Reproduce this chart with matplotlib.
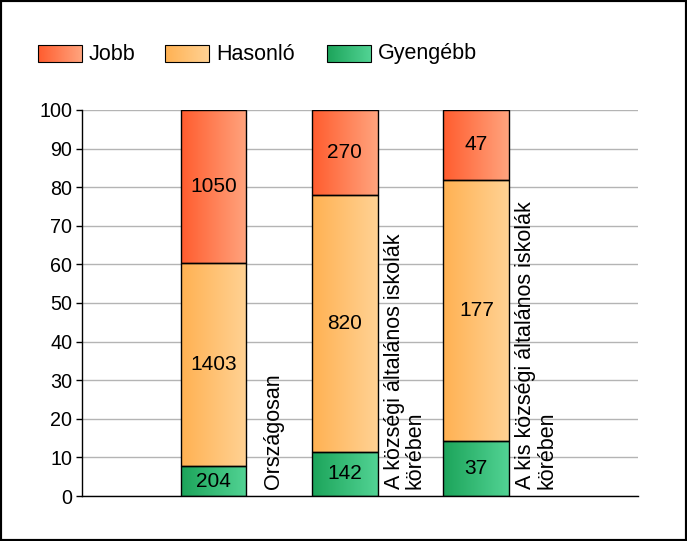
import numpy as np
import matplotlib
matplotlib.use("Agg")
import matplotlib.pyplot as plt
from matplotlib.colors import LinearSegmentedColormap
from matplotlib.patches import Rectangle

plt.rcParams["font.family"] = ["Liberation Sans", "DejaVu Sans"]

# Data
categories = ["Országosan",
              "A községi általános iskolák\nkörében",
              "A kis községi általános iskolák\nkörében"]
series = ["Gyengébb", "Hasonló", "Jobb"]
counts = {
    "Gyengébb": [204, 142, 37],
    "Hasonló": [1403, 820, 177],
    "Jobb": [1050, 270, 47],
}
y_ticks = [0, 10, 20, 30, 40, 50, 60, 70, 80, 90, 100]

# gradient colours (left -> right)
grad = {
    "Jobb": ("#FF5C2E", "#FFA47E"),
    "Hasonló": ("#FFB152", "#FFD294"),
    "Gyengébb": ("#1CA45A", "#52D394"),
}

W, H = 687, 541
fig = plt.figure(figsize=(W / 100, H / 100), dpi=100)
ax = fig.add_axes([82 / W, 45 / H, 556 / W, 386 / H])

x = np.arange(1, len(categories) + 1)
totals = np.sum([counts[s] for s in series], axis=0)
bottom = np.zeros(len(categories))
gx = np.linspace(0, 1, 256).reshape(1, -1)

for s in series:
    vals = np.array(counts[s])
    pct = vals / totals * 100
    cmap = LinearSegmentedColormap.from_list(s, grad[s])
    bars = ax.bar(x, pct, width=0.5, bottom=bottom, facecolor="none",
                  edgecolor="black", linewidth=1, zorder=3)
    for b, v, p, b0 in zip(bars, vals, pct, bottom):
        x0 = b.get_x()
        im = ax.imshow(gx, cmap=cmap, aspect="auto", zorder=2,
                       extent=(x0, x0 + b.get_width(), b0, b0 + p))
        im.set_clip_path(b)
        ax.text(x0 + b.get_width() / 2, b0 + p / 2, str(v), ha="center",
                va="center", fontsize=15, zorder=4)
    bottom = bottom + pct

# category labels, rotated, to the right of each bar
for xi, lab in zip(x, categories):
    ax.text(xi + 0.455, 1.8, lab, rotation=90, ha="center", va="bottom",
            multialignment="left", fontsize=15.5, linespacing=1.0)

ax.set_xlim(0, 4.23)
ax.set_ylim(0, 100)
ax.set_yticks(y_ticks)
ax.set_xticks([])
ax.tick_params(axis="y", labelsize=14.2, length=4, width=1, pad=3)
ax.yaxis.grid(True, color="#B4B4B4", linewidth=1)
ax.set_axisbelow(True)
for sp in ["top", "right"]:
    ax.spines[sp].set_visible(False)
for sp in ["left", "bottom"]:
    ax.spines[sp].set_linewidth(1)

# legend drawn by hand with gradient boxes
lax = fig.add_axes([0, 0, 1, 1])
lax.axis("off")
leg_x = {"Jobb": 38, "Hasonló": 165, "Gyengébb": 327}
for s in ["Jobb", "Hasonló", "Gyengébb"]:
    lx = leg_x[s]
    cmap = LinearSegmentedColormap.from_list(s, grad[s])
    lax.imshow(gx, cmap=cmap, aspect="auto", extent=(lx, lx + 44, 62, 45))
    lax.add_patch(Rectangle((lx, 45), 44, 17, fill=False, edgecolor="black",
                            linewidth=0.8))
    lax.text(lx + 51, 54, s, ha="left", va="center", fontsize=15.5)
lax.set_xlim(0, W)
lax.set_ylim(H, 0)

fig.patches.append(Rectangle((0, 0), 1, 1, transform=fig.transFigure,
                             fill=False, edgecolor="black", linewidth=3))

fig.savefig("out.png", dpi=100)
